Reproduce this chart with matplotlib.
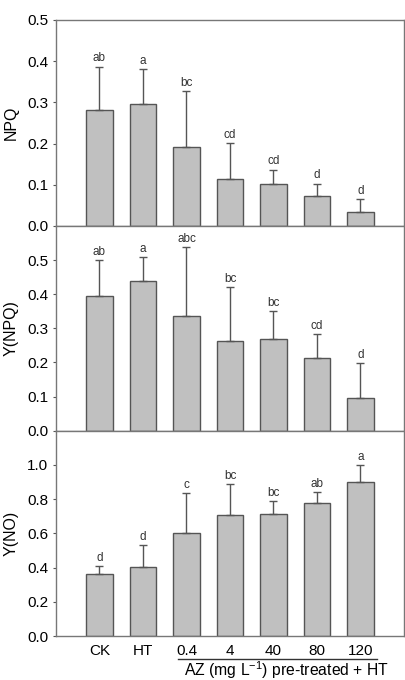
import numpy as np
import matplotlib.pyplot as plt
import matplotlib.transforms as mtransforms

plt.rcParams['font.family'] = ['Liberation Sans', 'DejaVu Sans']
plt.rcParams['mathtext.fontset'] = 'custom'
plt.rcParams['mathtext.rm'] = 'Liberation Sans'

groups = ["CK", "HT", "0.4", "4", "40", "80", "120"]

npq = [0.281, 0.295, 0.192, 0.115, 0.101, 0.074, 0.033]
npq_err = [0.106, 0.086, 0.136, 0.087, 0.036, 0.029, 0.033]
npq_letters = ["ab", "a", "bc", "cd", "cd", "d", "d"]

ynpq = [0.396, 0.440, 0.335, 0.264, 0.268, 0.212, 0.097]
ynpq_err = [0.105, 0.069, 0.204, 0.157, 0.084, 0.071, 0.101]
ynpq_letters = ["ab", "a", "abc", "bc", "bc", "cd", "d"]

yno = [0.364, 0.402, 0.600, 0.709, 0.713, 0.778, 0.899]
yno_err = [0.047, 0.128, 0.234, 0.178, 0.075, 0.062, 0.101]
yno_letters = ["d", "d", "c", "bc", "bc", "ab", "a"]

panels = [
    ("NPQ", npq, npq_err, npq_letters, 0.5, [0.0, 0.1, 0.2, 0.3, 0.4, 0.5]),
    ("Y(NPQ)", ynpq, ynpq_err, ynpq_letters, 0.6, [0.0, 0.1, 0.2, 0.3, 0.4, 0.5]),
    ("Y(NO)", yno, yno_err, yno_letters, 1.2, [0.0, 0.2, 0.4, 0.6, 0.8, 1.0]),
]

W, H = 406, 680
fig = plt.figure(figsize=(W / 100, H / 100), dpi=100)

# panel edges in pixels (top, bottom)
edges = [(20, 226), (226, 430.7), (430.7, 636)]
left, right = 56, 404
edge_col = "#555555"

x = np.arange(len(groups))
axes = []
for (name, vals, errs, letters, ymax, ticks), (t, b) in zip(panels, edges):
    ax = fig.add_axes([left / W, 1 - b / H, (right - left) / W, (b - t) / H])
    ax.bar(x, vals, width=0.6, color="#c0c0c0", edgecolor=edge_col, linewidth=1.0, zorder=2)
    ax.errorbar(x, vals, yerr=[np.zeros(len(vals)), errs], fmt="none",
                ecolor=edge_col, elinewidth=1.0, capsize=3, capthick=1.0, zorder=3)
    for xi, v, e, lab in zip(x, vals, errs, letters):
        ax.annotate(lab, (xi, v + e), xytext=(0, 1.5), textcoords="offset points",
                    ha="center", va="bottom", fontsize=8.5, color="#333333")
    ax.set_xlim(-1, 7)
    ax.set_ylim(0, ymax)
    ax.set_yticks(ticks)
    ax.set_yticklabels([f"{v:.1f}" for v in ticks])
    ax.tick_params(axis="y", direction="out", length=2.5, width=0.8, color=edge_col,
                   labelsize=11, pad=3)
    ax.tick_params(axis="x", length=0)
    for s in ax.spines.values():
        s.set_color("#777777")
        s.set_linewidth(1.0)
    fig.text(11 / W, 1 - (t + b) / 2 / H, name, rotation=90, ha="center", va="center",
             fontsize=11.5)
    axes.append(ax)

for ax in axes[:2]:
    ax.set_xticks([])

ax = axes[2]
ax.set_xticks(x)
ax.set_xticklabels(groups, fontsize=11)
ax.tick_params(axis="x", pad=6)

trans = mtransforms.blended_transform_factory(ax.transData, ax.transAxes)
ax.plot([1.8, 6.37], [-0.111, -0.111], color="#333333", lw=1.0, transform=trans, clip_on=False)
ax.text(4.3, -0.166, "AZ (mg L$^{\\mathregular{-1}}$) pre-treated + HT", transform=trans,
        ha="center", va="center", fontsize=11.3)

fig.savefig("out.png", dpi=100)
